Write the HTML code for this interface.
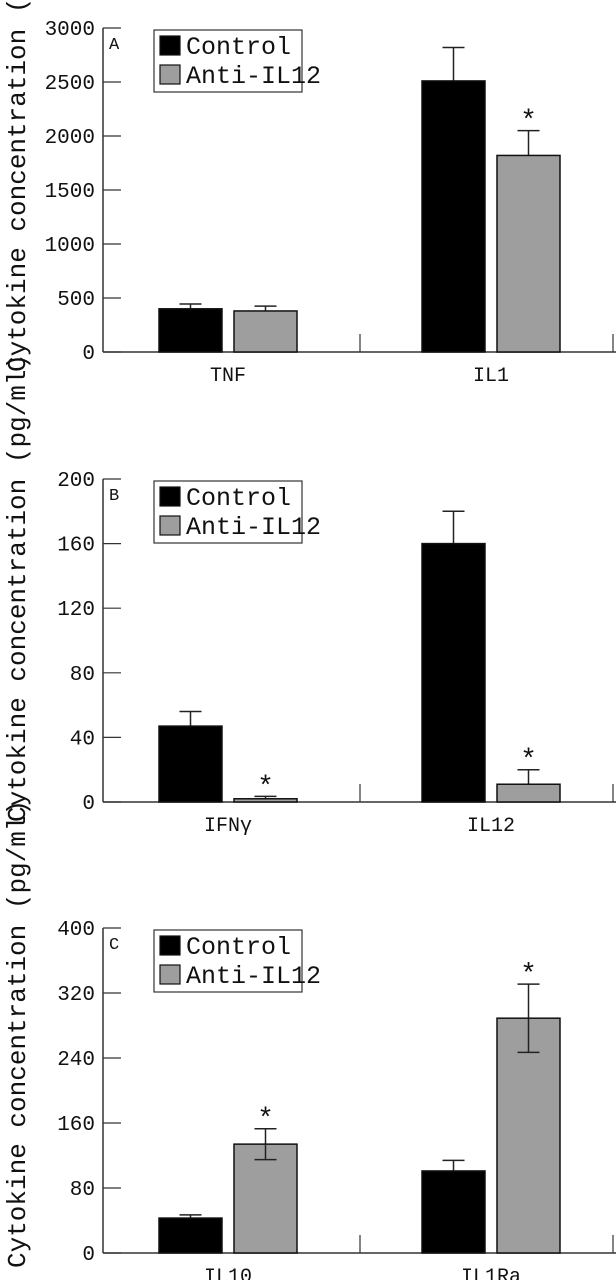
<!DOCTYPE html>
<html><head><meta charset="utf-8"><style>
body{margin:0;background:#fff;width:616px;height:1280px;overflow:hidden}
svg{display:block}
text{font-family:"Liberation Mono",monospace;fill:#111}
</style></head><body>
<svg id="chart" width="616" height="1280" viewBox="0 0 616 1280" xmlns="http://www.w3.org/2000/svg"></svg>
<script>
const panelLetters = ["A", "B", "C"];
const categoriesA = ["TNF", "IL1"];
const categoriesB = ["IFNγ", "IL12"];
const categoriesC = ["IL10", "IL1Ra"];
const controlA = [400, 2510];
const antiA = [380, 1820];
const controlErrA = [45, 310];
const antiErrA = [45, 230];
const controlB = [47, 160];
const antiB = [2, 11];
const controlErrB = [9, 20];
const antiErrB = [1.5, 9];
const controlC = [43, 101];
const antiC = [134, 289];
const controlErrC = [4, 13];
const antiErrC = [19, 42];
const starsA = [false, true];
const starsB = [true, true];
const starsC = [true, true];
const ticksA = [0, 500, 1000, 1500, 2000, 2500, 3000];
const ticksB = [0, 40, 80, 120, 160, 200];
const ticksC = [0, 80, 160, 240, 320, 400];
const legendLabels = ["Control", "Anti-IL12"];

const NS = "http://www.w3.org/2000/svg";
const svg = document.getElementById("chart");
function mk(tag, attrs, parent, txt) {
  const e = document.createElementNS(NS, tag);
  for (const k in attrs) e.setAttribute(k, attrs[k]);
  if (txt !== undefined) e.textContent = txt;
  (parent || svg).appendChild(e);
  return e;
}

const panels = [
  {cats: categoriesA, ctl: controlA, anti: antiA, ce: controlErrA, ae: antiErrA, stars: starsA, ticks: ticksA, top: 28, bottom: 352, twoSided: false},
  {cats: categoriesB, ctl: controlB, anti: antiB, ce: controlErrB, ae: antiErrB, stars: starsB, ticks: ticksB, top: 479, bottom: 802, twoSided: false},
  {cats: categoriesC, ctl: controlC, anti: antiC, ce: controlErrC, ae: antiErrC, stars: starsC, ticks: ticksC, top: 928, bottom: 1253, twoSided: true}
];
const axisX = 103, xEnd = 616;
const groupStart = [159, 422];
const barW = 63, gap = 12;

[372, 822, 1268].forEach(by => {
  const t = mk("text", {x: 0, y: 0, "font-size": 26, transform: "translate(25," + by + ") rotate(-90)"}, svg, "Cytokine concentration (pg/ml)");
  
  
});

panels.forEach((p, pi) => {
  const g = mk("g", {});
  
  
  const maxV = p.ticks[p.ticks.length - 1];
  const y = v => p.bottom - (v / maxV) * (p.bottom - p.top);
  const ya = mk("line", {x1: axisX, y1: p.top, x2: axisX, y2: p.bottom, stroke: "#333", "stroke-width": 1.5}, g);
  
  
  const xa = mk("line", {x1: axisX, y1: p.bottom, x2: xEnd, y2: p.bottom, stroke: "#333", "stroke-width": 1.5}, g);
  
  
  p.ticks.forEach(t => {
    const ty = y(t);
    mk("line", {x1: axisX, y1: ty, x2: axisX + 18, y2: ty, stroke: "#333", "stroke-width": 1.2}, g);
    const tl = mk("text", {x: 95, y: ty + 7, "text-anchor": "end", "font-size": 21}, g, String(t));
    
    
  });
  [360, 613].forEach(bx => mk("line", {x1: bx, y1: p.bottom, x2: bx, y2: p.bottom - 18, stroke: "#333", "stroke-width": 1.2}, g));
  const pl = mk("text", {x: 109, y: p.top + 21, "font-size": 17}, g, panelLetters[pi]);
  
  
  p.cats.forEach((c, ci) => {
    const x0 = groupStart[ci];
    const cl = mk("text", {x: x0 + barW + gap / 2, y: p.bottom + 29, "text-anchor": "middle", "font-size": 20}, g, c);
    
    
    [[p.ctl[ci], p.ce[ci], "#000", "control"], [p.anti[ci], p.ae[ci], "#9e9e9e", "anti-il12"]].forEach((b, bi) => {
      const bx = x0 + bi * (barW + gap);
      const cx = bx + barW / 2;
      const top = y(b[0]), et = y(b[0] + b[1]);
      mk("line", {x1: cx, y1: et, x2: cx, y2: top, stroke: "#222", "stroke-width": 1.5}, g);
      mk("line", {x1: cx - 11, y1: et, x2: cx + 11, y2: et, stroke: "#222", "stroke-width": 1.5}, g);
      const r = mk("rect", {x: bx, y: top, width: barW, height: p.bottom - top, fill: b[2], stroke: "#111", "stroke-width": 1.5}, g);
      
      
      if (p.twoSided && bi === 1) {
        const eb = y(b[0] - b[1]);
        mk("line", {x1: cx, y1: top, x2: cx, y2: eb, stroke: "#222", "stroke-width": 1.5}, g);
        mk("line", {x1: cx - 11, y1: eb, x2: cx + 11, y2: eb, stroke: "#222", "stroke-width": 1.5}, g);
      }
      if (bi === 1 && p.stars[ci]) {
        const s = mk("text", {x: cx, y: et - 2, "text-anchor": "middle", "font-size": 28, "font-family": "Liberation Sans, sans-serif"}, g, "*");
        
        
      }
    });
  });
  const lg = mk("g", {}, g);
  
  
  const ly = p.top + 2;
  mk("rect", {x: 154, y: ly, width: 148, height: 62, fill: "#fff", stroke: "#333", "stroke-width": 1.2}, lg);
  legendLabels.forEach((lab, li) => {
    const sy = ly + 6 + li * 29;
    mk("rect", {x: 160, y: sy, width: 20, height: 19, fill: li ? "#9e9e9e" : "#000", stroke: "#111", "stroke-width": 1.2}, lg);
    const lt = mk("text", {x: 186, y: sy + 18, "font-size": 25}, lg, lab);
    
    
  });
});
</script>
</body></html>
